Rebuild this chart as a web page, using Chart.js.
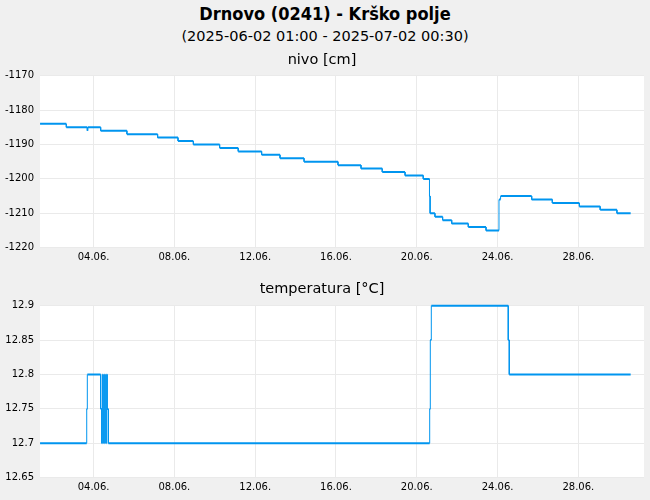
<!DOCTYPE html>
<html>
<head>
<meta charset="utf-8">
<title>Drnovo (0241) - Krško polje</title>
<script src="https://cdn.jsdelivr.net/npm/chart.js@4.4.1/dist/chart.umd.min.js"></script>
<style>
    html, body { margin: 0; padding: 0; background: #f0f0f0; }
    body { width: 650px; height: 500px; position: relative; overflow: hidden; font-family: "DejaVu Sans", sans-serif; color: #000; }
    .naslov { position: absolute; left: 0; width: 650px; text-align: center; white-space: nowrap; }
    #glavni { top: 4px; font-size: 18px; line-height: 20px; font-weight: bold; font-family: "DejaVu Sans Condensed", "DejaVu Sans", sans-serif; }
    #podnaslov { top: 26.5px; font-size: 14.5px; line-height: 18px; }
    canvas { position: absolute; left: 0; }
    #graf-nivo { top: 0; }
    #graf-temp { top: 270px; }
</style>
</head>
<body>
<div class="naslov" id="glavni">Drnovo (0241) - Krško polje</div>
<div class="naslov" id="podnaslov">(2025-06-02 01:00 - 2025-07-02 00:30)</div>
<canvas id="graf-nivo" width="650" height="270"></canvas>
<canvas id="graf-temp" width="650" height="230"></canvas>
<script>
// os x: dan v juniju (decimalno), odčitano s slike
const xOznakeDnevi = [4, 8, 12, 16, 20, 24, 28];
const xOznake = ["04.06.", "08.06.", "12.06.", "16.06.", "20.06.", "24.06.", "28.06."];
const xMin = 1.347;
const xMax = 31.25;

// nivo [cm] - točke, kjer se stopnica spremeni
const nivoDnevi = [1.35, 2.65, 3.69, 3.72, 4.35, 5.65, 7.17, 8.18, 8.94, 10.24, 11.16, 12.32, 13.23, 14.42, 16.10, 17.24, 18.29, 19.42, 20.32, 20.63, 20.66, 20.90, 21.28, 21.73, 22.55, 23.43, 24.07, 24.15, 25.69, 26.71, 28.05, 29.08, 29.91, 30.59];
const nivoVrednosti = [-1184, -1185, -1186, -1185, -1186, -1187, -1188, -1189, -1190, -1191, -1192, -1193, -1194, -1195, -1196, -1197, -1198, -1199, -1200, -1205, -1210, -1211, -1212, -1213, -1214, -1215, -1206, -1205, -1206, -1207, -1208, -1209, -1210, -1210];
const nivoOznake = [-1220, -1210, -1200, -1190, -1180, -1170];

// temperatura [°C]
const tempDnevi = [1.35, 3.66, 3.69, 4.35, 4.41, 4.43, 4.45, 4.47, 4.51, 4.53, 4.55, 4.57, 4.61, 4.63, 4.65, 4.67, 4.73, 20.64, 20.67, 20.72, 24.53, 24.58, 30.59];
const tempVrednosti = [12.7, 12.75, 12.8, 12.75, 12.7, 12.75, 12.8, 12.75, 12.7, 12.75, 12.8, 12.75, 12.7, 12.75, 12.8, 12.75, 12.7, 12.75, 12.85, 12.9, 12.85, 12.8, 12.8];
const tempOznake = [12.65, 12.7, 12.75, 12.8, 12.85, 12.9];

Chart.defaults.font.family = "'DejaVu Sans', sans-serif";
Chart.defaults.color = "#000";

// bela podlaga samo pod območjem grafa
const belaPodlaga = {
    id: "belaPodlaga",
    beforeDraw(chart) {
        const { ctx, chartArea: a } = chart;
        ctx.save();
        ctx.fillStyle = "#ffffff";
        ctx.fillRect(a.left, a.top, a.right - a.left, a.bottom - a.top);
        ctx.restore();
    }
};

// stopnice: vsaka sprememba dobi vogal, da so navpični deli tanjši
function stopnice(dnevi, vrednosti) {
    const tocke = [{ x: dnevi[0], y: vrednosti[0] }];
    for (let i = 1; i < dnevi.length; i++) {
        tocke.push({ x: dnevi[i], y: vrednosti[i - 1] });
        if (vrednosti[i] !== vrednosti[i - 1]) tocke.push({ x: dnevi[i], y: vrednosti[i] });
    }
    return tocke;
}

function narisiGraf(canvasId, naslov, dnevi, vrednosti, yOznake, odmik) {
    return new Chart(document.getElementById(canvasId), {
        type: "line",
        data: {
            datasets: [{
                data: stopnice(dnevi, vrednosti),
                borderColor: "#0095ef",
                borderWidth: 2,
                pointRadius: 0,
                fill: false,
                clip: 4,
                segment: {
                    borderWidth: c => (c.p0.parsed.x === c.p1.parsed.x ? 1 : 2)
                }
            }]
        },
        options: {
            responsive: false,
            animation: false,
            layout: { padding: { top: odmik.zgoraj, bottom: 2.3, left: 0, right: 6 } },
            plugins: {
                legend: { display: false },
                tooltip: { enabled: false },
                title: {
                    display: true,
                    text: naslov,
                    font: { size: 14.5, weight: "normal" },
                    padding: { top: 0, bottom: odmik.naslov }
                }
            },
            scales: {
                x: {
                    type: "linear",
                    min: xMin,
                    max: xMax,
                    afterBuildTicks: s => { s.ticks = xOznakeDnevi.map(v => ({ value: v })); },
                    afterFit: s => { s.height = 20; },
                    ticks: {
                        autoSkip: false,
                        maxRotation: 0,
                        padding: 4,
                        font: { size: 10 },
                        callback: (v, i) => xOznake[i]
                    },
                    grid: { color: "#eaeaea", drawTicks: false },
                    border: { display: false }
                },
                y: {
                    min: yOznake[0],
                    max: yOznake[yOznake.length - 1],
                    afterBuildTicks: s => { s.ticks = yOznake.map(v => ({ value: v })); },
                    afterFit: s => { s.width = 40; },
                    ticks: {
                        padding: 6,
                        font: { size: 10 },
                        callback: v => String(v)
                    },
                    grid: { color: "#eaeaea", drawTicks: false },
                    border: { display: false }
                }
            }
        },
        plugins: [belaPodlaga]
    });
}

narisiGraf("graf-nivo", "nivo [cm]", nivoDnevi, nivoVrednosti, nivoOznake, { zgoraj: 51.6, naslov: 6.7 });
narisiGraf("graf-temp", "temperatura [°C]", tempDnevi, tempVrednosti, tempOznake, { zgoraj: 10.8, naslov: 7.5 });
</script>
</body>
</html>
